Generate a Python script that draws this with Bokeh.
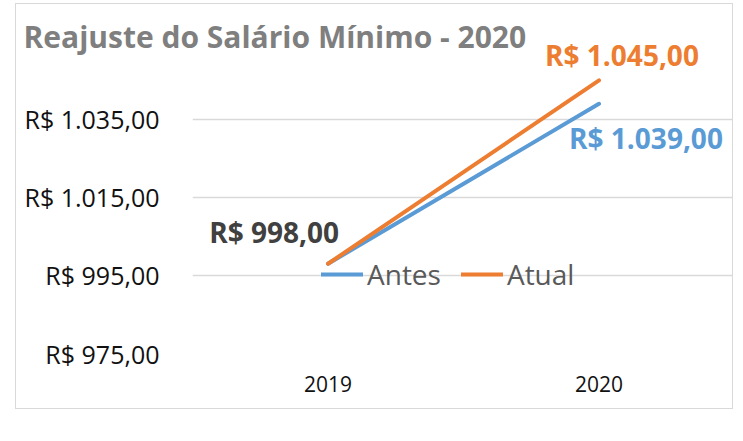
from bokeh.plotting import figure
from bokeh.models import (ColumnDataSource, FactorRange, FixedTicker, LabelSet,
                          Legend, LegendItem, Range1d)
from bokeh.core.properties import value
from bokeh.embed import file_html
from bokeh.resources import INLINE

# dados do gráfico
anos = ["2019", "2020"]
antes = [998.00, 1039.00]
atual = [998.00, 1045.00]
y_ticks = [975, 995, 1015, 1035]

AZUL = "#5B9BD5"
LARANJA = "#ED7D31"
FONTE = "Open Sans"


def brl(v):
    # 1035 -> "R$ 1.035,00"
    s = f"{v:,.2f}".replace(",", "X").replace(".", ",").replace("X", ".")
    return "R$ " + s


p = figure(x_range=FactorRange(*anos), y_range=Range1d(975, 1054.7),
           width=718, height=406, output_backend="svg", toolbar_location=None,
           min_border_left=176, min_border_right=0, min_border_top=38, min_border_bottom=57)
p.outline_line_color = None
p.styles = {"border": "1px solid #d9d9d9", "margin-left": "15px", "margin-top": "3px"}

# titulo
p.title.text = "Reajuste do Salário Mínimo - 2020"
p.title.text_font = FONTE
p.title.text_font_size = "30px"
p.title.text_font_style = "bold"
p.title.text_color = "#7F7F7F"
p.title.align = "left"
p.title.offset = -169
p.title.standoff = -28

# eixos
p.xgrid.grid_line_color = None
p.ygrid.grid_line_color = "#D9D9D9"
p.ygrid.grid_line_width = 1.5
p.yaxis.ticker = FixedTicker(ticks=y_ticks)
p.yaxis.major_label_overrides = {t: brl(t) for t in y_ticks}
for ax in (p.xaxis, p.yaxis):
    ax.axis_line_color = None
    ax.major_tick_line_color = None
    ax.minor_tick_line_color = None
    ax.major_tick_out = 0
    ax.major_tick_in = 0
    ax.major_label_text_font = FONTE
    ax.major_label_text_color = "#111111"
p.yaxis.major_label_text_font_size = "25px"
p.yaxis.major_label_standoff = 33
p.xaxis.major_label_text_font_size = "21px"
p.xaxis.major_label_standoff = 22

# linhas
r_antes = p.line(anos, antes, line_color=AZUL, line_width=4, line_cap="round")
r_atual = p.line(anos, atual, line_color=LARANJA, line_width=4, line_cap="round")

legenda = Legend(items=[LegendItem(label="Antes", renderers=[r_antes]),
                        LegendItem(label="Atual", renderers=[r_atual])],
                 orientation="horizontal", location=(129, 60),
                 background_fill_alpha=0, border_line_color=None,
                 label_text_font=FONTE, label_text_font_size="28px",
                 label_text_color="#595959", glyph_width=42, label_standoff=4,
                 spacing=20, padding=0, margin=0)
p.add_layout(legenda)


# rótulos de dados
def rotulo(x, y, cor, dx, dy, align):
    src = ColumnDataSource(dict(x=[x], y=[y], t=[brl(y)]))
    p.add_layout(LabelSet(x="x", y="y", text="t", source=src, x_offset=dx, y_offset=dy,
                          text_align=align, text_baseline="middle", text_color=cor,
                          text_font=value(FONTE), text_font_size="28px",
                          text_font_style="bold"))


rotulo(anos[0], atual[0], "#404040", 11, 32, "right")
rotulo(anos[1], atual[1], LARANJA, 23, 25, "center")
rotulo(anos[1], antes[1], AZUL, 47, -34, "center")

open("out.html", "w").write(file_html(p, INLINE))
